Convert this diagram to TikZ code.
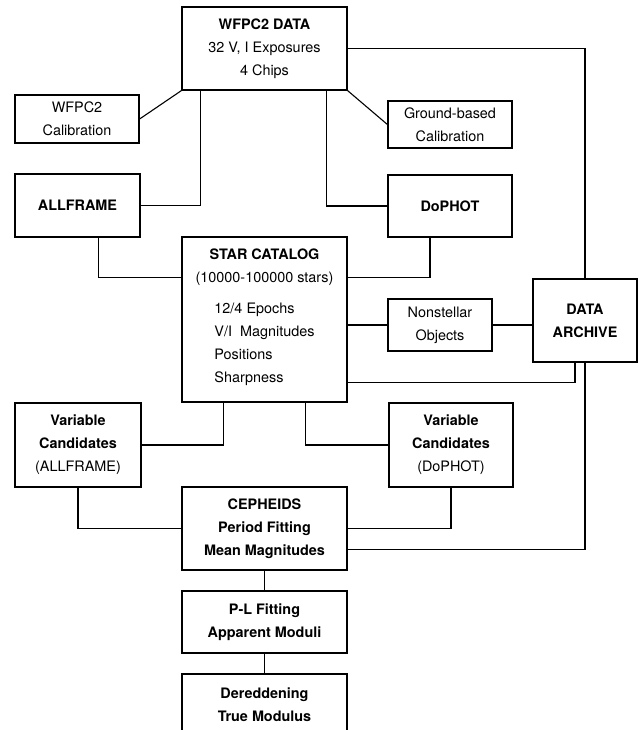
\documentclass[tikz,border=0pt]{standalone}
\usepackage{fontspec}
\setmainfont{TeX Gyre Heros}

\begin{document}
\begin{tikzpicture}[x=1pt,y=-1pt,
  font=\fontsize{14.4}{23}\selectfont,
  box/.style={draw, line width=1.2pt, rectangle, inner sep=0pt, align=center},
  link/.style={draw, line width=1.1pt, -}]
\useasboundingbox (0,0) rectangle (639,730);
\clip (0,0) rectangle (639,730);

\node[box, minimum width=165pt, minimum height=83pt] (wfpc) at (264.5,48.5) {\bfseries WFPC2 DATA\\32 V, I Exposures\\4 Chips};
\node[box, minimum width=124pt, minimum height=48pt] (wcal) at (77,119) {WFPC2\\Calibration};
\node[box, minimum width=124pt, minimum height=47pt] (gcal) at (450,124.5) {Ground-based\\Calibration};
\node[box, minimum width=125pt, minimum height=63pt] (allf) at (77.5,205.5) {\bfseries ALLFRAME};
\node[box, minimum width=124pt, minimum height=62pt] (doph) at (450,206) {\bfseries DoPHOT};
\node[box, minimum width=165pt, minimum height=165pt] (star) at (264.5,319.5) {\bfseries STAR CATALOG\\(10000-100000 stars)\\[8pt]\begin{tabular}[t]{@{}l@{}}12/4 Epochs\\V/I\ \ Magnitudes\\Positions\\Sharpness\end{tabular}};
\node[box, minimum width=104pt, minimum height=52pt] (nons) at (440,325) {Nonstellar\\Objects};
\node[box, minimum width=104pt, minimum height=83pt] (arch) at (585,320.5) {\bfseries DATA\\\bfseries ARCHIVE};
\node[box, minimum width=126pt, minimum height=84pt] (vara) at (78,445) {\bfseries Variable\\\bfseries Candidates\\(ALLFRAME)};
\node[box, minimum width=124pt, minimum height=84pt] (vard) at (451,445) {\bfseries Variable\\\bfseries Candidates\\(DoPHOT)};
\node[box, minimum width=165pt, minimum height=83pt] (ceph) at (264.5,528.5) {\bfseries CEPHEIDS\\\bfseries Period Fitting\\\bfseries Mean Magnitudes};
\node[box, minimum width=165pt, minimum height=62pt] (plfit) at (264.5,622) {\bfseries P-L Fitting\\\bfseries Apparent Moduli};
\node[box, minimum width=165pt, minimum height=62pt] (dered) at (264.5,705) {\bfseries Dereddening\\\bfseries True Modulus};

\path[link] (wfpc.south west) -- (wcal.east);
\path[link] (wfpc.south east) -- (gcal.west);
\path[link] ([xshift=19pt]wfpc.south west) |- (allf.east);
\path[link] ([xshift=-21pt]wfpc.south east) |- (doph.west);
\path[link] (wfpc.east) -| (arch.north);
\path[link] ([xshift=21pt]allf.south) |- ([yshift=-41pt]star.north west);
\path[link] ([xshift=-20pt]doph.south) |- ([yshift=-41pt]star.north east);
\path[link] (nons.west -| star.east) -- (nons.west);
\path[link] (nons.east) -- (nons.east -| arch.west);
\path[link] ([yshift=20pt]star.south east) -| ([xshift=-10pt]arch.south);
\path[link] (arch.south) |- ([yshift=-21pt]ceph.east);
\path[link] ([xshift=-41pt]star.south) |- (vara.east);
\path[link] ([xshift=41pt]star.south) |- (vard.west);
\path[link] (vara.south) |- (ceph.west);
\path[link] (vard.south) |- (ceph.east);
\path[link] (ceph) -- (plfit);
\path[link] (plfit) -- (dered);
\end{tikzpicture}
\end{document}
